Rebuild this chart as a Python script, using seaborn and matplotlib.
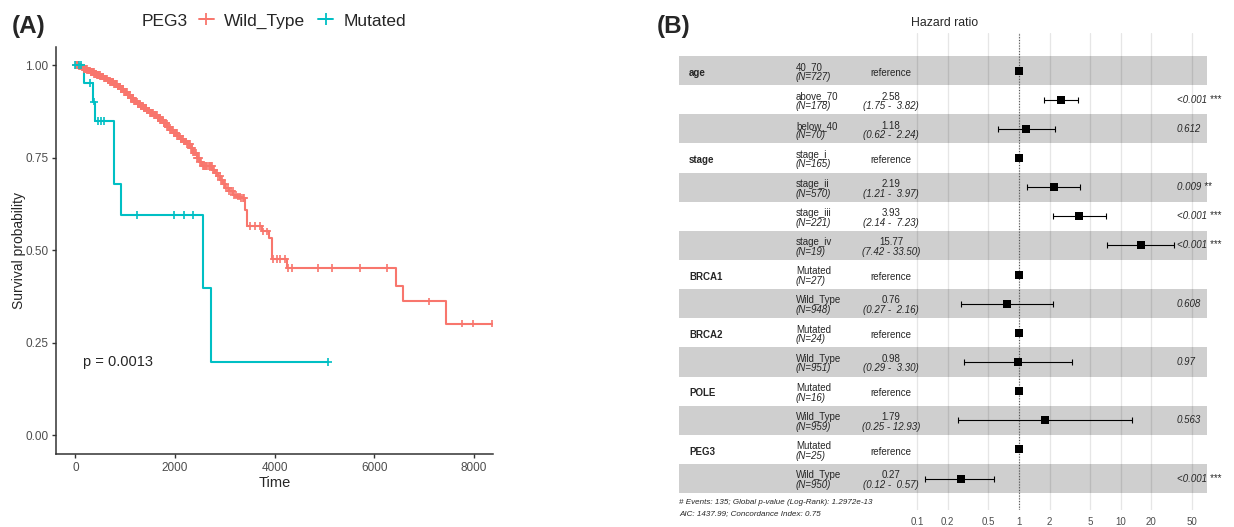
import numpy as np
import pandas as pd
import matplotlib
matplotlib.use("Agg")
import matplotlib.pyplot as plt
import matplotlib.transforms as mtransforms
from matplotlib.lines import Line2D
import seaborn as sns

sns.set_style("ticks")
plt.rcParams["font.family"] = ["Liberation Sans", "DejaVu Sans"]

WT_COLOR = "#F8766D"
MUT_COLOR = "#00BFC4"

# ---------------- Kaplan-Meier curves (PEG3 status) ----------------
group_labels = ["Wild_Type", "Mutated"]

wt_time = [0, 60, 120, 170, 230, 300, 370, 430, 500, 570, 640, 700, 770, 840,
           900, 970, 1040, 1100, 1170, 1240, 1300, 1370, 1440, 1500, 1570, 1640,
           1700, 1770, 1840, 1900, 1970, 2040, 2100, 2170, 2240, 2300, 2370,
           2440, 2500, 2540, 2750, 2810, 2860, 2910, 2960, 3010, 3080, 3170,
           3250, 3330, 3410, 3445, 3745, 3880, 3945, 4245, 6430, 6585, 7450]
wt_surv = [1.000, 0.997, 0.994, 0.990, 0.986, 0.982, 0.977, 0.973, 0.969,
           0.964, 0.959, 0.955, 0.950, 0.943, 0.936, 0.928, 0.920, 0.912,
           0.902, 0.896, 0.890, 0.884, 0.878, 0.871, 0.865, 0.858, 0.852,
           0.843, 0.832, 0.825, 0.817, 0.808, 0.801, 0.794, 0.787, 0.777,
           0.764, 0.750, 0.738, 0.727, 0.718, 0.709, 0.700, 0.691, 0.680,
           0.668, 0.660, 0.650, 0.645, 0.641, 0.610, 0.566, 0.551, 0.534,
           0.477, 0.453, 0.405, 0.362, 0.302]
wt_censor = [15, 28, 40, 55, 72, 85, 95, 112, 130, 145, 160, 175, 188, 200,
             215, 228, 240, 254, 268, 282, 295, 308, 320, 336, 352, 366, 380,
             392, 405, 420, 433, 447, 460, 475, 490, 503, 515, 532, 548, 562,
             575, 588, 602, 616, 630, 646, 662, 676, 690, 704, 718, 732, 745,
             762, 778, 792, 805, 818, 832, 846, 860, 876, 892, 906, 920, 934,
             948, 962, 975, 992, 1008, 1021, 1035, 1049, 1062, 1079, 1095,
             1108, 1122, 1136, 1150, 1165, 1180, 1195, 1210, 1224, 1238, 1252,
             1265, 1282, 1298, 1311, 1325, 1340, 1355, 1370, 1385, 1398, 1412,
             1426, 1440, 1455, 1470, 1485, 1500, 1515, 1530, 1545, 1560, 1574,
             1588, 1603, 1618, 1634, 1650, 1665, 1680, 1694, 1708, 1723, 1738,
             1754, 1770, 1785, 1800, 1815, 1830, 1846, 1862, 1877, 1892, 1906,
             1920, 1938, 1955, 1970, 1985, 2000, 2015, 2032, 2048, 2064, 2080,
             2095, 2110, 2128, 2145, 2162, 2178, 2194, 2210, 2228, 2245, 2262,
             2280, 2298, 2315, 2332, 2350, 2370, 2388, 2406, 2425, 2442, 2460,
             2480, 2500, 2530, 2560, 2585, 2610, 2630, 2650, 2675, 2700, 2720,
             2740, 2765, 2790, 2815, 2840, 2870, 2900, 2925, 2950, 2975, 3000,
             3030, 3060, 3090, 3120, 3155, 3190, 3225, 3260, 3295, 3330, 3360,
             3390, 3509, 3609, 3709, 3776, 3843, 3976, 4043, 4110, 4210, 4277,
             4344, 4878, 5146, 5714, 6248, 7104, 7753, 7987, 8374]

mut_time = [0, 167, 348, 388, 768, 916, 2553, 2720]
mut_surv = [1.000, 0.952, 0.902, 0.850, 0.680, 0.595, 0.397, 0.198]
mut_censor = [0, 67, 114, 301, 367, 454, 514, 567, 1236, 1972, 2172, 2359, 5080]

km_xticks = [0, 2000, 4000, 6000, 8000]
km_yticks = [0.00, 0.25, 0.50, 0.75, 1.00]
pval_text = "p = 0.0013"

# ---------------- Cox proportional hazards table ----------------
variables = ["age", "", "", "stage", "", "", "", "BRCA1", "", "BRCA2", "",
             "POLE", "", "PEG3", ""]
levels = ["40_70", "above_70", "below_40", "stage_i", "stage_ii", "stage_iii",
          "stage_iv", "Mutated", "Wild_Type", "Mutated", "Wild_Type",
          "Mutated", "Wild_Type", "Mutated", "Wild_Type"]
n_obs = [727, 178, 70, 165, 570, 221, 19, 27, 948, 24, 951, 16, 959, 25, 950]
is_reference = [True, False, False, True, False, False, False, True, False,
                True, False, True, False, True, False]
hr = [1.00, 2.58, 1.18, 1.00, 2.19, 3.93, 15.77, 1.00, 0.76, 1.00, 0.98,
      1.00, 1.79, 1.00, 0.27]
hr_low = [np.nan, 1.75, 0.62, np.nan, 1.21, 2.14, 7.42, np.nan, 0.27, np.nan,
          0.29, np.nan, 0.25, np.nan, 0.12]
hr_high = [np.nan, 3.82, 2.24, np.nan, 3.97, 7.23, 33.50, np.nan, 2.16, np.nan,
           3.30, np.nan, 12.93, np.nan, 0.57]
p_labels = ["", "<0.001 ***", "0.612", "", "0.009 **", "<0.001 ***",
            "<0.001 ***", "", "0.608", "", "0.97", "", "0.563", "",
            "<0.001 ***"]
hr_ticks = [0.1, 0.2, 0.5, 1, 2, 5, 10, 20, 50]
hr_ticklabels = ["0.1", "0.2", "0.5", "1", "2", "5", "10", "20", "50"]
model_notes = ["# Events: 135; Global p-value (Log-Rank): 1.2972e-13",
               "AIC: 1437.99; Concordance Index: 0.75"]

W, H = 1234, 527
fig = plt.figure(figsize=(W / 100, H / 100), dpi=100)


def fx(px):
    return px / W


def fy(py):
    return 1 - py / H


# ================= Panel A =================
axA = fig.add_axes([fx(56), fy(454), fx(493) - fx(56), fy(46.7) - fy(454)])

curves = []
marks = []
for name, t, s, cens in [("Wild_Type", wt_time, wt_surv, wt_censor),
                         ("Mutated", mut_time, mut_surv, mut_censor)]:
    t_full = list(t) + [max(cens)]
    s_full = list(s) + [s[-1]]
    curves.append(pd.DataFrame({"time": t_full, "surv": s_full, "group": name}))
    idx = np.searchsorted(np.asarray(t), np.asarray(cens), side="right") - 1
    marks.append(pd.DataFrame({"time": cens, "surv": np.asarray(s)[idx],
                               "group": name}))
curve_df = pd.concat(curves, ignore_index=True)
mark_df = pd.concat(marks, ignore_index=True)
palette = {"Wild_Type": WT_COLOR, "Mutated": MUT_COLOR}

sns.lineplot(data=curve_df, x="time", y="surv", hue="group", palette=palette,
             estimator=None, sort=False, drawstyle="steps-post", lw=1.5,
             legend=False, ax=axA)
sns.scatterplot(data=mark_df, x="time", y="surv", hue="group", palette=palette,
                marker="+", s=30, linewidth=1.2, legend=False, ax=axA,
                zorder=3)

axA.set_xlim(-390, 8385)
axA.set_ylim(-0.05, 1.05)
axA.set_xticks(km_xticks)
axA.set_xticklabels([str(v) for v in km_xticks])
axA.set_yticks(km_yticks)
axA.set_yticklabels([f"{v:.2f}" for v in km_yticks])
sns.despine(ax=axA)
for sp in ("left", "bottom"):
    axA.spines[sp].set_color("#333333")
    axA.spines[sp].set_linewidth(1.1)
axA.tick_params(axis="both", length=3, width=1.0, color="#333333",
                labelcolor="#4d4d4d", labelsize=8.5, pad=2.5)
axA.set_xlabel("Time", fontsize=10.5)
axA.set_ylabel("Survival probability", fontsize=10)
axA.xaxis.set_label_coords(0.5, (454 - 483) / 407.3)
axA.xaxis.label.set_va("center")
axA.yaxis.set_label_coords((18.5 - 56) / 437, 0.5)
axA.yaxis.label.set_va("center")
axA.text(160, 0.198, pval_text, fontsize=10.5, ha="left", va="center")

# legend across the top of panel A
fig.text(fx(142), fy(21), "PEG3", fontsize=12.5, ha="left", va="center")
handles = [Line2D([0], [0], color=WT_COLOR, lw=1.4, marker="+", ms=8, mew=1.3),
           Line2D([0], [0], color=MUT_COLOR, lw=1.4, marker="+", ms=8, mew=1.3)]
fig.legend(handles, group_labels, loc="center left",
           bbox_to_anchor=(fx(199), fy(21)), ncol=2, frameon=False,
           fontsize=12.5, handlelength=0.85, handletextpad=0.6,
           columnspacing=0.75, borderpad=0, borderaxespad=0)

fig.text(fx(12), fy(26), "(A)", fontsize=17.5, fontweight="bold",
         ha="left", va="center")

# ================= Panel B =================
axB = fig.add_axes([fx(679), fy(510), fx(1207) - fx(679), fy(33) - fy(510)])
axB.set_xscale("log")
axB.set_xlim(10 ** -3.339, 10 ** 1.848)
nrow = len(levels)
rows = np.arange(1, nrow + 1)
axB.set_ylim(16.08, -0.29)

for t in hr_ticks:
    axB.axvline(t, color="#e6e6e6", lw=0.9, zorder=0)
for r in rows:
    if r % 2 == 1:
        axB.axhspan(r - 0.5, r + 0.5, color="black", alpha=0.19, lw=0, zorder=1)
axB.axvline(1, color="#555555", ls=(0, (1, 1.5)), lw=0.8, zorder=2)

hr_arr = np.asarray(hr)
lo_arr = np.asarray(hr_low)
hi_arr = np.asarray(hr_high)
has_ci = ~np.isnan(lo_arr)
axB.errorbar(hr_arr[has_ci], rows[has_ci],
             xerr=[hr_arr[has_ci] - lo_arr[has_ci], hi_arr[has_ci] - hr_arr[has_ci]],
             fmt="none", ecolor="black", elinewidth=0.8, capsize=2.2,
             capthick=0.8, zorder=3)
sns.scatterplot(x=hr_arr, y=rows, marker="s", s=38, color="black",
                linewidth=0, ax=axB, zorder=4)

axB.set_xticks(hr_ticks)
axB.set_xticklabels(hr_ticklabels)
axB.xaxis.set_minor_locator(matplotlib.ticker.NullLocator())
axB.tick_params(axis="x", length=0, labelsize=7, labelcolor="#4d4d4d", pad=5)
axB.set_yticks([])
axB.set_xlabel("")
axB.set_ylabel("")
for sp in axB.spines.values():
    sp.set_visible(False)

blend = mtransforms.blended_transform_factory(axB.transAxes, axB.transData)
x_var, x_lvl, x_est, x_p = 0.019, 0.2216, 0.4015, 0.943
fs = 7
for i, r in enumerate(rows):
    if variables[i]:
        axB.text(x_var, r + 0.08, variables[i], transform=blend, fontsize=fs,
                 fontweight="bold", ha="left", va="center")
    axB.text(x_lvl, r - 0.11, levels[i], transform=blend, fontsize=fs,
             ha="left", va="center")
    axB.text(x_lvl, r + 0.22, f"(N={n_obs[i]})", transform=blend, fontsize=fs,
             style="italic", ha="left", va="center")
    if is_reference[i]:
        axB.text(x_est, r + 0.08, "reference", transform=blend, fontsize=fs,
                 ha="center", va="center")
    else:
        axB.text(x_est, r - 0.11, f"{hr[i]:.2f}", transform=blend, fontsize=fs,
                 ha="center", va="center")
        axB.text(x_est, r + 0.22, f"({hr_low[i]:.2f} - {hr_high[i]:5.2f})",
                 transform=blend, fontsize=fs, style="italic",
                 ha="center", va="center")
    if p_labels[i]:
        axB.text(x_p, r, p_labels[i], transform=blend, fontsize=fs,
                 style="italic", ha="left", va="center", clip_on=False)

fig.text(fx(945), fy(23), "Hazard ratio", fontsize=8.8, ha="center",
         va="center")
fig.text(fx(679), fy(503), model_notes[0], fontsize=5.8, style="italic",
         ha="left", va="center")
fig.text(fx(679), fy(514), model_notes[1], fontsize=5.8, style="italic",
         ha="left", va="center")
fig.text(fx(657), fy(26), "(B)", fontsize=17.5, fontweight="bold",
         ha="left", va="center")

fig.savefig("out.png", dpi=100)
